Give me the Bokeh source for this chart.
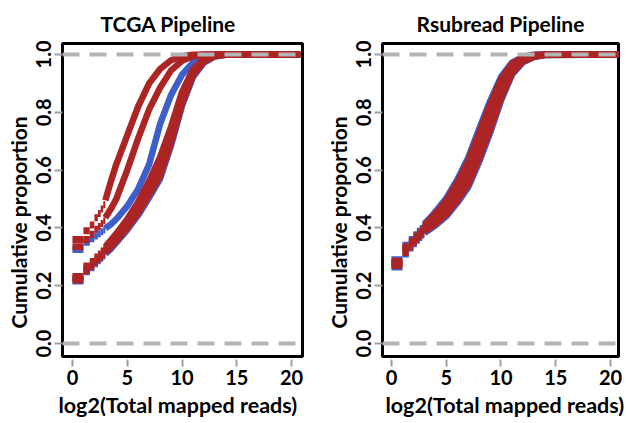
from bokeh.plotting import figure
from bokeh.layouts import row
from bokeh.models import Span, FixedTicker, Range1d, NumeralTickFormatter, Title
from bokeh.embed import file_html
from bokeh.resources import INLINE

# shared x positions: log2(total mapped reads)
x_grid = [0, 1, 1.58, 2, 2.32, 2.58, 2.81, 3, 3.5, 4, 5, 6, 7, 8, 9, 10, 11, 12, 13, 14, 20.8]
x_ticks = [0, 5, 10, 15, 20]
y_ticks = [0.0, 0.2, 0.4, 0.6, 0.8, 1.0]

# TCGA pipeline: cumulative proportion per sample
tcga_red_a = [.36, .39, .41, .435, .45, .465, .48, .495, .56, .62, .72, .82, .90, .95, .98, .994, .999, 1.0, 1.0, 1.0, 1.0]
tcga_red_b = [.335, .36, .378, .395, .405, .415, .425, .435, .465, .50, .60, .71, .81, .885, .945, .978, .994, .999, 1.0, 1.0, 1.0]
tcga_blue_c = [.325, .35, .362, .372, .38, .387, .393, .398, .412, .43, .475, .535, .62, .76, .86, .93, .972, .99, .998, 1.0, 1.0]
tcga_red_d1 = [.232, .268, .284, .299, .31, .32, .329, .336, .357, .38, .43, .49, .562, .645, .75, .87, .948, .985, .997, 1.0, 1.0]
tcga_red_d2 = [.225, .26, .275, .29, .30, .31, .318, .325, .345, .368, .415, .47, .54, .61, .725, .85, .938, .98, .996, 1.0, 1.0]
tcga_red_d3 = [.22, .252, .267, .281, .291, .30, .308, .315, .333, .355, .40, .452, .515, .58, .695, .83, .928, .975, .994, .999, 1.0]
tcga_blue_d = [.216, .248, .262, .276, .286, .295, .303, .31, .327, .349, .393, .444, .505, .57, .685, .822, .922, .972, .993, .999, 1.0]

# Rsubread pipeline
rsub_blue_u = [.29, .34, .36, .376, .388, .398, .406, .414, .433, .455, .502, .566, .642, .742, .838, .922, .972, .992, .999, 1.0, 1.0]
rsub_blue_l = [.265, .31, .33, .345, .357, .367, .375, .382, .395, .408, .44, .486, .54, .628, .728, .84, .93, .973, .991, .998, 1.0]
rsub_red_u = [.285, .335, .355, .371, .383, .393, .401, .409, .428, .449, .494, .556, .63, .728, .826, .914, .968, .99, .998, 1.0, 1.0]
rsub_red_m = [.277, .325, .345, .36, .372, .382, .39, .397, .413, .43, .47, .525, .59, .685, .785, .885, .955, .985, .996, .999, 1.0]
rsub_red_l = [.27, .315, .335, .35, .362, .372, .38, .387, .40, .414, .447, .494, .55, .64, .74, .85, .935, .976, .992, .998, 1.0]

RED = "#ad2424"
BLUE = "#3d5fcc"
GRAY = "#b4b4b4"
FONT = "Lato"
N_STEP = 7  # discrete steps drawn as horizontal segments


def draw_ecdf(p, ys, color):
    p.segment(x0=x_grid[:N_STEP], y0=ys[:N_STEP], x1=x_grid[1:N_STEP + 1], y1=ys[:N_STEP],
              line_color=color, line_width=7, line_cap="butt")
    p.line(x_grid[N_STEP:], ys[N_STEP:], line_color=color, line_width=6.5, line_join="round")


def make_fig(title, xr, bl, br, frame_w, title_align, title_offset, xlab_offset):
    p = figure(output_backend="svg", toolbar_location=None,
               frame_width=frame_w, frame_height=313,
               min_border_left=bl, min_border_right=br, min_border_top=42, min_border_bottom=62,
               x_range=Range1d(*xr), y_range=Range1d(-0.045, 1.038),
               title=title)
    p.grid.visible = False
    p.background_fill_color = "white"
    p.border_fill_color = "white"
    p.outline_line_color = "black"
    p.outline_line_width = 3
    p.title.text_font = FONT
    p.title.text_font_style = "bold"
    p.title.text_font_size = "21px"
    p.title.text_color = "black"
    p.title.align = title_align
    p.title.offset = title_offset
    p.title.standoff = 16
    for ax in (p.xaxis[0], p.yaxis[0]):
        ax.axis_line_color = None
        ax.major_tick_line_color = "#a0a0a0"
        ax.major_tick_line_width = 2
        ax.minor_tick_line_color = None
        ax.major_label_text_font = FONT
        ax.major_label_text_font_style = "bold"
        ax.major_label_text_font_size = "20px"
        ax.major_label_text_color = "black"
    p.xaxis[0].ticker = FixedTicker(ticks=x_ticks)
    p.xaxis[0].major_tick_in = -3
    p.xaxis[0].major_tick_out = 10
    p.xaxis[0].major_label_standoff = 3
    p.yaxis[0].ticker = FixedTicker(ticks=y_ticks)
    p.yaxis[0].formatter = NumeralTickFormatter(format="0.0")
    p.yaxis[0].major_label_orientation = "vertical"
    p.yaxis[0].major_tick_in = 0
    p.yaxis[0].major_tick_out = 8
    p.yaxis[0].major_label_standoff = 3
    ylab = Title(text="Cumulative proportion", align="left", offset=28, standoff=6,
                 text_font=FONT, text_font_style="bold", text_font_size="21px",
                 text_color="black")
    p.add_layout(ylab, "left")
    xlab = Title(text="log2(Total mapped reads)", align="left", offset=xlab_offset, standoff=4,
                 text_font=FONT, text_font_style="bold", text_font_size="21.5px",
                 text_color="black")
    p.add_layout(xlab, "below")
    for loc in (0.0, 1.0):
        p.add_layout(Span(location=loc, dimension="width", line_color=GRAY,
                          line_width=4, line_dash="17 10"))
    return p


p1 = make_fig("TCGA Pipeline", (-0.91, 21.0), 62, 16, 240, "left", 38, -4)
for ys in (tcga_blue_d, tcga_blue_c):
    draw_ecdf(p1, ys, BLUE)
for ys in (tcga_red_d3, tcga_red_d2, tcga_red_d1, tcga_red_b, tcga_red_a):
    draw_ecdf(p1, ys, RED)

p2 = make_fig("Rsubread Pipeline", (-0.82, 20.73), 64, 8, 236, "center", 0, 3)
for ys in (rsub_blue_u, rsub_blue_l):
    draw_ecdf(p2, ys, BLUE)
for ys in (rsub_red_u, rsub_red_l, rsub_red_m):
    draw_ecdf(p2, ys, RED)

layout = row(p1, p2)
open("out.html", "w").write(file_html(layout, INLINE))
